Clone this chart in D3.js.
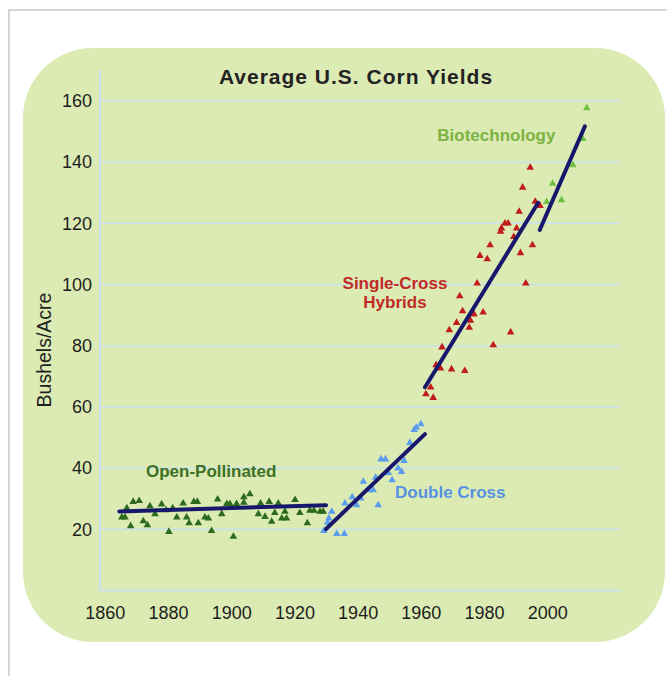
<!DOCTYPE html>
<html>
<head>
<meta charset="utf-8">
<script src="https://cdn.jsdelivr.net/npm/d3@7"></script>
<style>
  body { margin: 0; background: #fff; }
  text { font-family: "Liberation Sans", Arial, sans-serif; }
</style>
</head>
<body>
<svg id="chart" width="667" height="676"></svg>
<script>
// values: [year, bushels/acre]
const openPollinated = [
  [1865.4, 23.9], [1866.4, 23.9], [1867.0, 26.9], [1868.2, 21.1], [1869.0, 29.0],
  [1870.9, 29.3], [1872.2, 22.7], [1873.5, 21.4], [1874.3, 27.6], [1875.9, 25.0],
  [1878.0, 28.2], [1879.4, 26.3], [1880.3, 19.2], [1881.5, 26.9], [1882.8, 23.9],
  [1884.8, 28.5], [1885.9, 23.9], [1886.7, 22.0], [1888.2, 29.0], [1889.3, 29.0],
  [1889.6, 22.0], [1891.7, 23.9], [1892.8, 23.6], [1893.8, 19.5], [1895.7, 29.8],
  [1897.0, 25.0], [1898.6, 28.3], [1899.6, 28.3], [1900.7, 17.6], [1901.7, 28.3],
  [1904.0, 30.5], [1904.0, 28.7], [1905.9, 31.5], [1908.6, 25.0], [1909.3, 28.5],
  [1910.7, 24.1], [1912.0, 29.0], [1912.8, 22.5], [1913.8, 25.4], [1914.9, 28.5],
  [1916.0, 23.6], [1917.0, 25.8], [1917.5, 23.6], [1920.2, 29.6], [1921.7, 25.4],
  [1924.1, 22.0], [1924.9, 26.1], [1926.2, 26.1], [1928.1, 25.8], [1929.1, 25.8]
];

const doubleCross = [
  [1929.3, 19.5], [1930.5, 22.2], [1930.9, 23.6], [1931.8, 25.8], [1933.4, 18.5],
  [1935.8, 18.5], [1936.0, 28.5], [1938.3, 30.5], [1939.7, 27.9], [1941.0, 30.1],
  [1941.8, 35.6], [1943.3, 32.8], [1944.9, 32.8], [1945.7, 36.9], [1946.5, 27.9],
  [1947.4, 42.9], [1948.8, 42.9], [1949.7, 38.5], [1950.9, 36.1], [1952.8, 39.9],
  [1953.9, 38.8], [1954.7, 42.4], [1956.5, 48.3], [1957.9, 52.5], [1958.6, 53.3],
  [1960.0, 54.4]
];

const singleCross = [
  [1961.6, 64.2], [1963.1, 66.4], [1963.9, 63.0], [1964.8, 73.7], [1966.2, 72.6],
  [1966.7, 79.5], [1969.0, 85.1], [1969.7, 72.3], [1971.3, 87.5], [1972.3, 96.2],
  [1973.2, 91.3], [1973.9, 71.8], [1975.3, 85.9], [1975.7, 88.2], [1976.8, 90.3],
  [1977.8, 100.4], [1978.7, 109.4], [1979.7, 90.9], [1981.0, 108.3], [1981.9, 112.9],
  [1982.9, 80.2], [1985.2, 117.3], [1985.5, 118.4], [1986.6, 120.0], [1987.6, 120.0],
  [1988.4, 84.4], [1989.4, 115.6], [1990.3, 118.4], [1991.1, 123.8], [1991.5, 110.3],
  [1992.2, 131.7], [1993.2, 100.4], [1994.6, 138.2], [1995.3, 112.9], [1996.2, 127.1],
  [1997.7, 125.7]
];

const biotech = [
  [1999.8, 127.0], [2001.7, 133.0], [2004.5, 127.6], [2008.1, 139.0], [2011.2, 147.6],
  [2012.5, 157.7]
];

// trend line end points
const openTrend = [[1864.6, 25.8], [1930.0, 27.9]];
const doubleTrend = [[1930.0, 20.1], [1961.3, 51.1]];
const singleTrend = [[1961.3, 66.4], [1997.1, 126.7]];
const biotechTrend = [[1997.6, 117.8], [2011.9, 151.7]];

const xTicks = [1860, 1880, 1900, 1920, 1940, 1960, 1980, 2000];
const yTicks = [20, 40, 60, 80, 100, 120, 140, 160];

const svg = d3.select("#chart");

// outer frame (top and left edges only are visible)
svg.append("path")
  .attr("d", "M9,676V10H667")
  .attr("fill", "none")
  .attr("stroke", "#c9c9c9")
  .attr("stroke-width", 1.5);

// rounded panel
svg.append("rect")
  .attr("x", 23).attr("y", 48)
  .attr("width", 642).attr("height", 594)
  .attr("rx", 70).attr("ry", 70)
  .attr("fill", "#dcebb4");

const x = d3.scaleLinear().domain([1858.5, 2023]).range([100, 620]);
const y = d3.scaleLinear().domain([0, 170]).range([590.5, 70.3]);

// grid lines
svg.append("g")
  .selectAll("line")
  .data(yTicks)
  .enter()
  .append("line")
  .attr("x1", 100).attr("x2", 620)
  .attr("y1", d => y(d)).attr("y2", d => y(d))
  .attr("stroke", "#cbe2ec")
  .attr("stroke-width", 1.5);

// axis lines
svg.append("line")
  .attr("x1", 100).attr("x2", 100)
  .attr("y1", y(170)).attr("y2", y(0))
  .attr("stroke", "#c6e1ec").attr("stroke-width", 2);
svg.append("line")
  .attr("x1", 100).attr("x2", 620)
  .attr("y1", y(0)).attr("y2", y(0))
  .attr("stroke", "#c6e1ec").attr("stroke-width", 2);

const xAxis = svg.append("g")
  .attr("transform", `translate(0,${y(0)})`)
  .call(d3.axisBottom(x).tickValues(xTicks).tickSize(0).tickPadding(16).tickFormat(d3.format("d")));

const yAxis = svg.append("g")
  .attr("transform", "translate(100,0)")
  .call(d3.axisLeft(y).tickValues(yTicks).tickSize(0).tickPadding(8));

[xAxis, yAxis].forEach(a => {
  a.select(".domain").remove();
  a.selectAll("text")
    .attr("fill", "#1e1e1e")
    .style("font-size", "18px")
    .style("font-family", "'Liberation Sans', Arial, sans-serif");
});

svg.append("text")
  .attr("transform", "translate(51,350) rotate(-90)")
  .attr("text-anchor", "middle")
  .attr("fill", "#1e1e1e")
  .style("font-size", "19.5px")
  .text("Bushels/Acre");

svg.append("text")
  .attr("x", 356).attr("y", 84)
  .attr("text-anchor", "middle")
  .attr("fill", "#222")
  .style("font-size", "21px")
  .style("font-weight", "bold")
  .style("letter-spacing", "1px")
  .text("Average U.S. Corn Yields");

// markers
const tri = d3.symbol().type(d3.symbolTriangle).size(25);
const series = [
  { data: openPollinated, color: "#2d6a1b" },
  { data: doubleCross, color: "#5b9cee" },
  { data: singleCross, color: "#bf1c1a" },
  { data: biotech, color: "#6fc041" }
];

series.forEach(s => {
  svg.append("g")
    .selectAll("path")
    .data(s.data)
    .enter()
    .append("path")
    .attr("d", tri)
    .attr("transform", d => `translate(${x(d[0])},${y(d[1])})`)
    .attr("fill", s.color);
});

// trend lines on top of the points
const line = d3.line().x(d => x(d[0])).y(d => y(d[1]));
[openTrend, doubleTrend, singleTrend, biotechTrend].forEach(t => {
  svg.append("path")
    .attr("d", line(t))
    .attr("fill", "none")
    .attr("stroke", "#17176c")
    .attr("stroke-width", 4)
    .attr("stroke-linecap", "round");
});

// series labels
const labels = svg.append("g")
  .style("font-size", "17px")
  .style("font-weight", "bold");

labels.append("text")
  .attr("x", 146).attr("y", 476.7)
  .attr("fill", "#3d7024")
  .text("Open-Pollinated");

labels.append("text")
  .attr("x", 395).attr("y", 498.3)
  .attr("fill", "#5592e2")
  .text("Double Cross");

labels.append("text")
  .attr("x", 395).attr("y", 288.5)
  .attr("text-anchor", "middle")
  .attr("fill", "#c02a26")
  .text("Single-Cross");

labels.append("text")
  .attr("x", 395).attr("y", 307.5)
  .attr("text-anchor", "middle")
  .attr("fill", "#c02a26")
  .text("Hybrids");

labels.append("text")
  .attr("x", 437.3).attr("y", 140.7)
  .attr("fill", "#7cb342")
  .text("Biotechnology");
</script>
</body>
</html>
